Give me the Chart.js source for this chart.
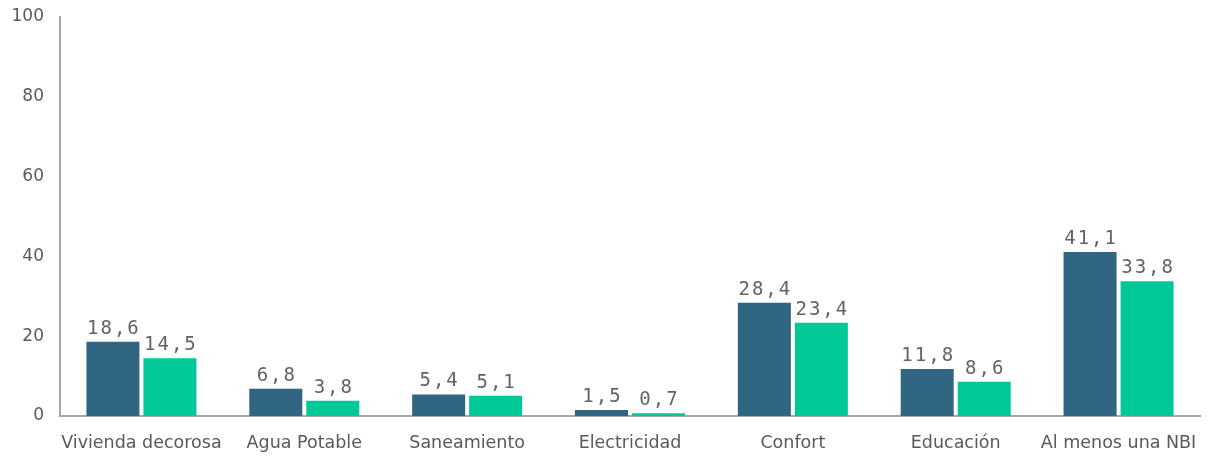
<!DOCTYPE html>
<html>
<head>
<meta charset="utf-8">
<script src="https://cdn.jsdelivr.net/npm/chart.js@4"></script>
<style>
  html, body { margin: 0; padding: 0; background: #fff; }
  #wrap { width: 1210px; height: 456px; }
</style>
</head>
<body>
<div id="wrap"><canvas id="chart" width="1210" height="456"></canvas></div>
<script>
// ---------------- DATA ----------------
const categories = ["Vivienda decorosa", "Agua Potable", "Saneamiento", "Electricidad", "Confort", "Educación", "Al menos una NBI"];
const seriesA = [18.6, 6.8, 5.4, 1.5, 28.4, 11.8, 41.1];
const seriesB = [14.5, 3.8, 5.1, 0.7, 23.4, 8.6, 33.8];
const yTicks = [0, 20, 40, 60, 80, 100];

const COLOR_A = "#316682";
const COLOR_B = "#00C896";
const TEXT = "#595959";
const AXIS = "#A6A6A6";
const FONT = "'DejaVu Sans', Verdana, sans-serif";

// labels above bars, decimal comma
const barLabels = {
  id: "barLabels",
  afterDatasetsDraw(chart) {
    const ctx = chart.ctx;
    ctx.save();
    ctx.font = "19px 'DejaVu Sans Mono', monospace";
    ctx.fillStyle = "#646464";
    ctx.textAlign = "center";
    ctx.textBaseline = "alphabetic";
    ctx.letterSpacing = "2px";
    chart.data.datasets.forEach((ds, i) => {
      chart.getDatasetMeta(i).data.forEach((bar, j) => {
        const txt = ds.data[j].toFixed(1).replace(".", ",");
        ctx.fillText(txt, bar.x + 1, bar.y - 8);
      });
    });
    ctx.restore();
  }
};

// ---------------- CHART ----------------
new Chart(document.getElementById("chart").getContext("2d"), {
  type: "bar",
  data: {
    labels: categories,
    datasets: [
      { data: seriesA, backgroundColor: COLOR_A, categoryPercentage: 0.7, barPercentage: 0.93 },
      { data: seriesB, backgroundColor: COLOR_B, categoryPercentage: 0.7, barPercentage: 0.93 }
    ]
  },
  options: {
    responsive: false,
    animation: false,
    layout: { padding: { top: 17, right: 10, left: 0, bottom: 0 } },
    plugins: { legend: { display: false }, tooltip: { enabled: false } },
    scales: {
      x: {
        grid: { display: false, drawTicks: false },
        border: { display: true, color: AXIS, width: 2 },
        ticks: { color: TEXT, font: { family: FONT, size: 17.5 }, padding: 17, maxRotation: 0, autoSkip: false },
        afterFit: s => { s.height = 40; s.paddingLeft = 0; s.paddingRight = 0; }
      },
      y: {
        min: 0, max: 100,
        afterBuildTicks: s => { s.ticks = yTicks.map(v => ({ value: v })); },
        grid: { display: false, drawTicks: false },
        border: { display: true, color: AXIS, width: 2 },
        ticks: { color: TEXT, font: { family: FONT, size: 17 }, padding: 16 },
        afterFit: s => { s.width = 60; s.paddingTop = 0; s.paddingBottom = 0; }
      }
    }
  },
  plugins: [barLabels]
});
</script>
</body>
</html>
